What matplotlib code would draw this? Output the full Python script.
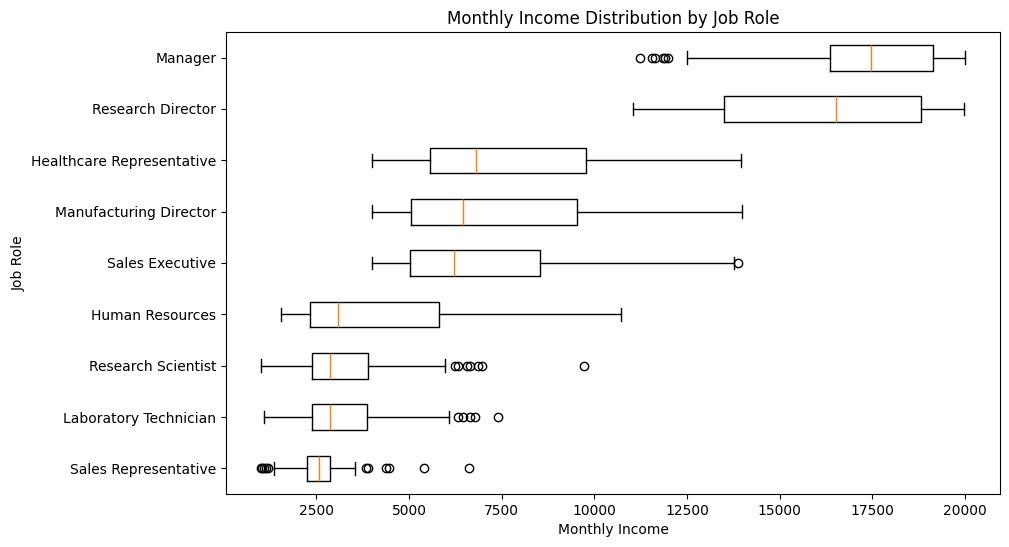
import matplotlib
matplotlib.use("Agg")
import matplotlib.pyplot as plt

roles = ["Sales Representative", "Laboratory Technician", "Research Scientist",
         "Human Resources", "Sales Executive", "Manufacturing Director",
         "Healthcare Representative", "Research Director", "Manager"]
whislo = [1347, 1077, 1009, 1555, 4003, 4003, 4003, 11043, 12510]
q1 = [2238, 2373, 2373, 2319, 5020, 5047, 5561, 13500, 16363]
med = [2562, 2870, 2870, 3075, 6208, 6451, 6803, 16534, 17469]
q3 = [2870, 3869, 3885, 5803, 8530, 9540, 9782, 18829, 19143]
whishi = [3534, 6073, 5965, 10718, 13770, 13973, 13966, 19980, 19999]
fliers = [
    [1009, 1042, 1088, 1131, 1200, 3831, 3896, 4390, 4471, 5398, 6613],
    [6308, 6451, 6632, 6775, 7396],
    [6235, 6308, 6569, 6640, 6856, 6975, 9729],
    [],
    [13888],
    [],
    [],
    [],
    [11244, 11557, 11631, 11849, 11904, 11996],
]

stats = []
for i, r in enumerate(roles):
    stats.append(dict(label=r, whislo=whislo[i], q1=q1[i], med=med[i],
                      q3=q3[i], whishi=whishi[i], fliers=fliers[i]))

fig = plt.figure(figsize=(10.09, 5.47), dpi=100)
ax = fig.add_axes([226/1009, 1 - 494/547, (1000 - 226)/1009, (494 - 32)/547])
ax.bxp(stats, orientation="horizontal")
ax.set_title("Monthly Income Distribution by Job Role")
ax.set_xlabel("Monthly Income")
ax.set_ylabel("Job Role")
fig.savefig("out.png", dpi=100)
